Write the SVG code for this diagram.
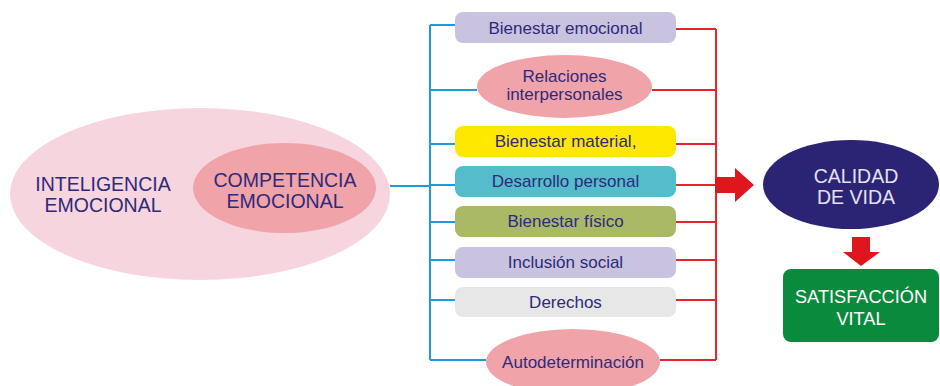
<svg xmlns="http://www.w3.org/2000/svg" width="940" height="386" viewBox="0 0 940 386">
<style>
.t{font-family:"Liberation Sans",Arial,sans-serif;fill:#2e2a7a;text-anchor:middle}
.s{font-size:17px}
.b{font-size:19.5px}
.w{fill:#ffffff;font-size:18.2px}
.blue{stroke:#1e9be0;stroke-width:2;fill:none}
.red{stroke:#e5252b;stroke-width:2;fill:none}
</style>
<rect width="940" height="386" fill="#ffffff"/>
<g id="connectors">
<path class="blue" d="M390 186H430 M430 25V360 M430 25H455 M430 90H477 M430 144H455 M430 185H455 M430 222H455 M430 260H455 M430 300H455 M430 360H486"/>
<path class="red" d="M716 29V360 M676 29H716 M652 90H716 M676 144H716 M676 185H716 M676 222H716 M676 260H716 M676 300H716 M660 360H716"/>
<path d="M715 177H735V168L754 185L735 202V193H715Z" fill="#e0161e"/>
<path d="M852 237H870V252H880L861 266L843 252H852Z" fill="#e0161e"/>
</g>
<g id="inteligencia">
<ellipse cx="200" cy="194" rx="190" ry="86" fill="#f6d5df"/>
<text class="t b" x="103" y="191">INTELIGENCIA</text>
<text class="t b" x="103" y="212">EMOCIONAL</text>
</g>
<g id="competencia">
<ellipse cx="284.5" cy="188" rx="91.5" ry="45" fill="#f0a3a8"/>
<text class="t b" x="285" y="187">COMPETENCIA</text>
<text class="t b" x="285" y="208">EMOCIONAL</text>
</g>
<g id="bienestar-emocional">
<rect x="455" y="12" width="221" height="31" rx="8" fill="#c9c3e0"/>
<text class="t s" x="565.5" y="33.5">Bienestar emocional</text>
</g>
<g id="relaciones">
<ellipse cx="564.5" cy="86.5" rx="87.5" ry="31.5" fill="#f0a3a8"/>
<text class="t s" x="564.5" y="82">Relaciones</text>
<text class="t s" x="564.5" y="100">interpersonales</text>
</g>
<g id="bienestar-material">
<rect x="455" y="126" width="221" height="31" rx="8" fill="#ffe800"/>
<text class="t s" x="565.5" y="147">Bienestar material,</text>
</g>
<g id="desarrollo">
<rect x="455" y="166" width="221" height="31" rx="8" fill="#55bccb"/>
<text class="t s" x="565.5" y="187">Desarrollo personal</text>
</g>
<g id="bienestar-fisico">
<rect x="455" y="206" width="221" height="31" rx="8" fill="#aab966"/>
<text class="t s" x="565.5" y="227">Bienestar físico</text>
</g>
<g id="inclusion">
<rect x="455" y="247" width="221" height="31" rx="8" fill="#c9c3e0"/>
<text class="t s" x="565.5" y="268">Inclusión social</text>
</g>
<g id="derechos">
<rect x="455" y="287" width="221" height="30" rx="8" fill="#e6e7e6"/>
<text class="t s" x="565.5" y="308">Derechos</text>
</g>
<g id="autodeterminacion">
<ellipse cx="573" cy="362" rx="87" ry="33" fill="#f0a3a8"/>
<text class="t s" x="573" y="368">Autodeterminación</text>
</g>
<g id="calidad">
<ellipse cx="851" cy="184.5" rx="88" ry="44.5" fill="#2b2373"/>
<text class="t b" x="856" y="183" style="fill:#e4e0f2">CALIDAD</text>
<text class="t b" x="856" y="204" style="fill:#e4e0f2">DE VIDA</text>
</g>
<g id="satisfaccion">
<rect x="783" y="269" width="156" height="73" rx="8" fill="#0a8a3c"/>
<text class="t w" x="861" y="303">SATISFACCIÓN</text>
<text class="t w" x="861" y="325">VITAL</text>
</g>
</svg>
